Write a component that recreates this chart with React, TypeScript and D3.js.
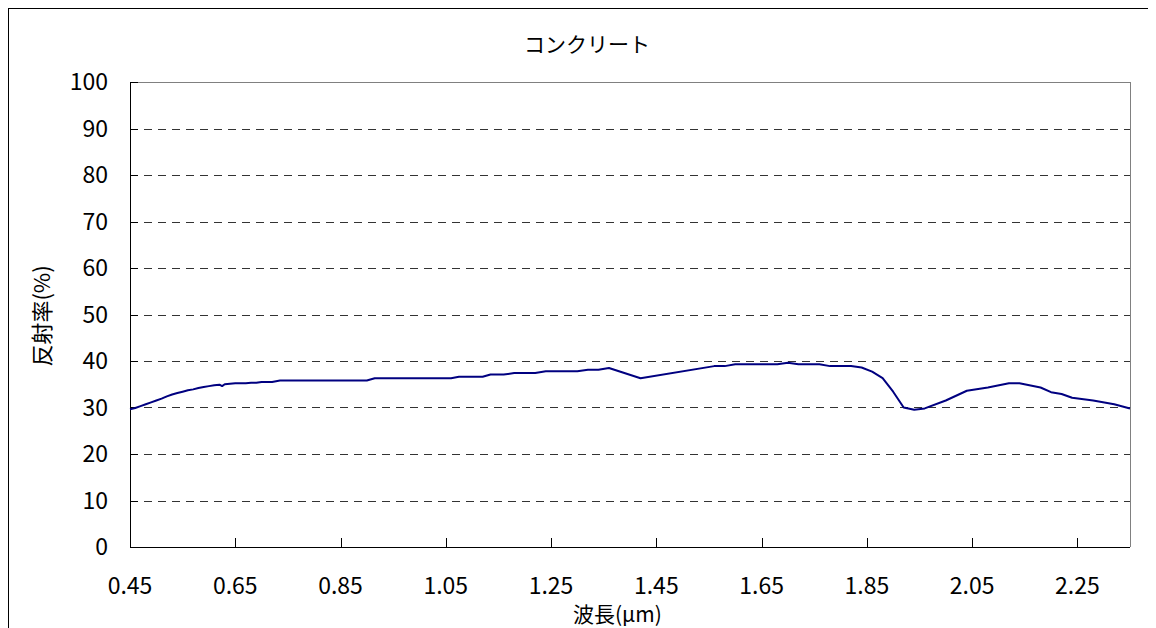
import React from 'react';
import * as d3 from 'd3';

const width = 1148;
const height = 620;
const margin = { top: 74, right: 26, bottom: 81, left: 122 };

const title = 'コンクリート';
const yLabel = '反射率(%)';
const xLabel = '波長(μm)';

// wavelength (µm) and reflectance (%)
const wavelengths = [
  0.45, 0.46, 0.47, 0.48, 0.49, 0.50, 0.51, 0.52, 0.53, 0.54, 0.55, 0.56, 0.57, 0.58, 0.59,
  0.60, 0.61, 0.62, 0.625, 0.63, 0.64, 0.65, 0.66, 0.67, 0.68, 0.69, 0.70, 0.72, 0.735, 0.90,
  0.915, 1.06, 1.075, 1.12, 1.135, 1.16, 1.18, 1.22, 1.24, 1.30, 1.32, 1.34, 1.36, 1.42,
  1.56, 1.58, 1.60, 1.68, 1.70, 1.72, 1.76, 1.78, 1.82, 1.84, 1.86, 1.88, 1.90, 1.92, 1.94,
  1.96, 2.00, 2.04, 2.08, 2.12, 2.14, 2.18, 2.20, 2.22, 2.24, 2.28, 2.32, 2.35
];
const reflectance = [
  29.6, 29.9, 30.3, 30.7, 31.1, 31.5, 31.9, 32.4, 32.8, 33.1, 33.4, 33.7, 33.9, 34.2, 34.4,
  34.6, 34.8, 34.9, 34.6, 35.0, 35.1, 35.2, 35.2, 35.2, 35.3, 35.3, 35.5, 35.5, 35.8, 35.8,
  36.3, 36.3, 36.6, 36.6, 37.1, 37.1, 37.4, 37.4, 37.8, 37.8, 38.1, 38.1, 38.5, 36.3,
  38.9, 38.9, 39.3, 39.3, 39.6, 39.3, 39.3, 38.9, 38.9, 38.6, 37.7, 36.3, 33.4, 30.0, 29.5,
  29.8, 31.5, 33.6, 34.3, 35.2, 35.2, 34.3, 33.3, 32.9, 32.1, 31.5, 30.7, 29.8
];

const xTicks = [0.45, 0.65, 0.85, 1.05, 1.25, 1.45, 1.65, 1.85, 2.05, 2.25];
const yTicks = [0, 10, 20, 30, 40, 50, 60, 70, 80, 90, 100];

const font = '"Noto Sans CJK JP", "Liberation Sans", sans-serif';

export default function App() {
  const x = d3.scaleLinear().domain([0.45, 2.35]).range([margin.left, width - margin.right]);
  const y = d3.scaleLinear().domain([0, 100]).range([height - margin.bottom, margin.top]);

  const points: [number, number][] = wavelengths.map((w, i) => [w, reflectance[i]]);
  const line = d3.line<[number, number]>()
    .x(d => x(d[0]))
    .y(d => y(d[1]));

  const x0 = x(0.45), x1 = x(2.35), y0 = y(0), y1 = y(100);

  return (
    <div>
      <style>{'body{overflow:hidden}'}</style>
      <svg width={width} height={height} style={{ display: 'block' }}>
        {/* outer frame, right and bottom fall outside the picture */}
        <rect x={0.5} y={0.5} width={1200} height={700} fill="#fff" stroke="#000" />

        <text x={579} y={44} textAnchor="middle" fontFamily={font} fontSize={21}>{title}</text>

        {/* grid */}
        {yTicks.filter(t => t > 0 && t < 100).map(t => (
          <line key={t} x1={x0} x2={x1} y1={Math.round(y(t)) + 0.5} y2={Math.round(y(t)) + 0.5}
            stroke="#333" strokeDasharray="8,6" />
        ))}

        {/* plot frame */}
        <line x1={x0} x2={x1} y1={Math.round(y1) + 0.5} y2={Math.round(y1) + 0.5} stroke="#808080" />
        <line x1={Math.round(x1) + 0.5} x2={Math.round(x1) + 0.5} y1={y1} y2={y0} stroke="#808080" />
        <line x1={Math.round(x0) + 0.5} x2={Math.round(x0) + 0.5} y1={y1} y2={y0 + 0.5} stroke="#000" />
        <line x1={x0} x2={x1} y1={Math.round(y0) + 0.5} y2={Math.round(y0) + 0.5} stroke="#000" />

        {/* y axis */}
        {yTicks.map(t => (
          <g key={t}>
            <line x1={x0} x2={x0 + 8} y1={Math.round(y(t)) + 0.5} y2={Math.round(y(t)) + 0.5} stroke="#000" />
            <text x={x0 - 22} y={y(t)} dy="0.36em" textAnchor="end" fontFamily={font} fontSize={23}>{t}</text>
          </g>
        ))}

        {/* x axis */}
        {xTicks.map(t => (
          <g key={t}>
            <line x1={Math.round(x(t)) + 0.5} x2={Math.round(x(t)) + 0.5} y1={y0} y2={y0 - 9} stroke="#000" />
            <text x={x(t)} y={y0 + 47} textAnchor="middle" fontFamily={font} fontSize={23}>{t.toFixed(2)}</text>
          </g>
        ))}

        <path d={line(points) || ''} fill="none" stroke="#000080" strokeWidth={2} strokeLinejoin="round" />

        <text x={565} y={614} fontFamily={font} fontSize={21}>{xLabel}</text>
        <text transform={`translate(42, ${308}) rotate(-90)`} textAnchor="middle" fontFamily={font} fontSize={22}>{yLabel}</text>
      </svg>
    </div>
  );
}
